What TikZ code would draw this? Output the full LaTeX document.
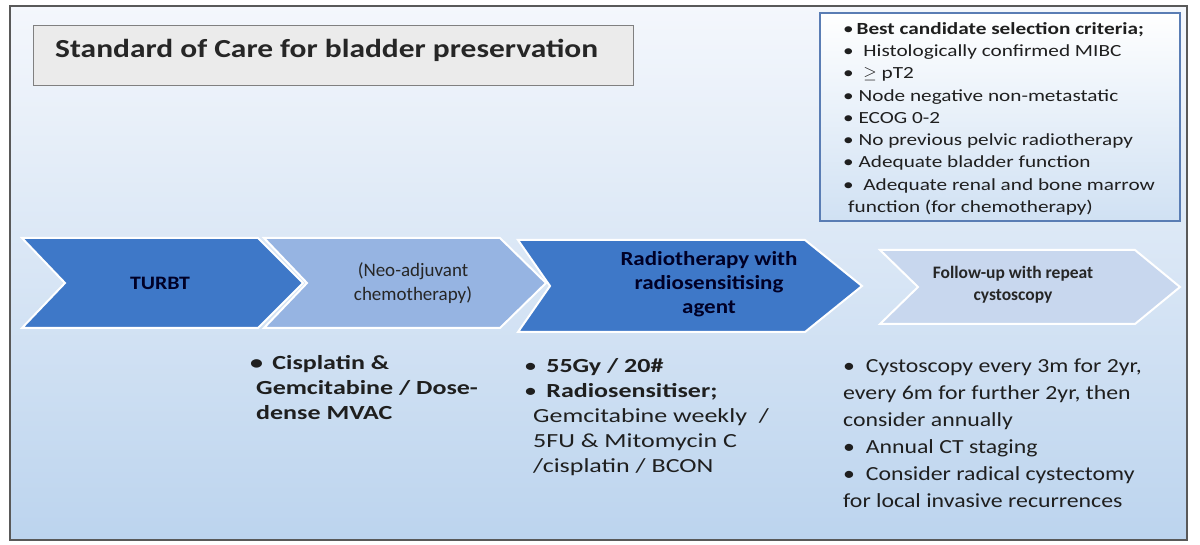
\documentclass[tikz,border=0pt]{standalone}
\usepackage{fontspec}
\setmainfont{Carlito}
\newfontfamily\fwide[FakeStretch=1.15]{Carlito}
\newfontfamily\fwider[FakeStretch=1.3]{Carlito}
\newfontfamily\fcrit[FakeStretch=1.25]{Carlito}
\newfontfamily\fmid[FakeStretch=1.19]{Carlito}
\newfontfamily\ftitle[FakeStretch=1.21]{Carlito}
\begin{document}
\begin{tikzpicture}[x=1pt,y=-1pt,
  txt/.style={inner sep=0pt,align=left,text=black!88},
  chev/.style={draw=white,line width=2pt,line join=miter}]
\definecolor{darkb}{HTML}{3E78C8}
\definecolor{midb}{HTML}{96B4E2}
\definecolor{paleb}{HTML}{C8D7EE}
\definecolor{bgtop}{HTML}{F4F7FC}
\definecolor{bgbot}{HTML}{BCD4EE}
\definecolor{frameb}{HTML}{5A7DB4}
\useasboundingbox (0,0) rectangle (1200,545);
\fill[white] (0,0) rectangle (1200,545);
% outer frame
\shade[top color=bgtop,bottom color=bgbot] (10,6) rectangle (1187,540);
\draw[black!65,line width=1.5pt] (10,6) rectangle (1187,540);
% title
\node[draw=black!50,line width=1pt,fill=black!8,minimum width=600pt,minimum height=60pt,anchor=north west,inner sep=0pt] (titlebox) at (33,25) {};
\node[anchor=west,inner sep=0pt,font=\ftitle\fontsize{26}{30}\selectfont\bfseries,text=black!85] (title) at (55,50) {Standard of Care for bladder preservation};
% criteria box
\shade[top color=white,bottom color=bgbot!70] (820,13) rectangle (1180,221);
\draw[frameb,line width=2pt] (820,13) rectangle (1180,221);
\node[txt,anchor=north west,font=\fcrit\fontsize{17}{22.3}\selectfont] (crit) at (843,22) {%
\textbullet\,\textbf{Best candidate selection criteria;}\\
\textbullet\ \ Histologically confirmed MIBC\\
\textbullet\ \ $\geq$ pT2\\
\textbullet\ Node negative non-metastatic\\
\textbullet\ ECOG 0-2\\
\textbullet\ No previous pelvic radiotherapy\\
\textbullet\ Adequate bladder function\\
\textbullet\ \ Adequate renal and bone marrow\\
\hspace*{5pt}function (for chemotherapy)};
% chevrons
\fill[chev,fill=darkb] (22,238) -- (258,238) -- (303,283) -- (258,328) -- (22,328) -- (65,283) -- cycle;
\fill[chev,fill=midb] (264,238) -- (500,238) -- (546,283) -- (500,328) -- (264,328) -- (307,283) -- cycle;
\fill[chev,fill=darkb] (518,240) -- (805,240) -- (862,286) -- (805,332) -- (518,332) -- (550,286) -- cycle;
\fill[chev,fill=paleb] (880,250) -- (1135,250) -- (1180,287) -- (1135,324) -- (880,324) -- (918,287) -- cycle;
\node[inner sep=0pt,font=\fwide\fontsize{19}{22}\selectfont\bfseries,text=black!85!blue] (c1) at (160,283) {TURBT};
\node[inner sep=0pt,align=center,font=\fontsize{19}{24}\selectfont,text=black!85] (c2) at (413,283) {(Neo-adjuvant\\chemotherapy)};
\node[inner sep=0pt,align=center,font=\fwide\fontsize{20}{24}\selectfont\bfseries,text=black!85!blue] (c3) at (709,284) {Radiotherapy with\\radiosensitising\\agent};
\node[inner sep=0pt,align=center,font=\fontsize{17.5}{22}\selectfont\bfseries,text=black!85] (c4) at (1013,285) {Follow-up with repeat\\cystoscopy};
% lists
\node[txt,anchor=north west,font=\fwider\fontsize{20}{25}\selectfont\bfseries] (l1) at (250,355) {%
\textbullet\ \,Cisplatin \&\\
\hspace*{6pt}Gemcitabine / Dose-\\
\hspace*{6pt}dense MVAC};
\node[txt,anchor=north west,font=\fwider\fontsize{20}{25}\selectfont] (l2) at (524,358) {%
\textbullet\ \,\textbf{55Gy / 20\#}\\
\textbullet\ \,\textbf{Radiosensitiser;}\\
\hspace*{9pt}Gemcitabine weekly \ /\\
\hspace*{9pt}5FU \& Mitomycin C\\
\hspace*{9pt}/cisplatin / BCON};
\node[txt,anchor=north west,font=\fmid\fontsize{20}{27}\selectfont] (l3) at (843,359) {%
\textbullet\ \ Cystoscopy every 3m for 2yr,\\
every 6m for further 2yr, then\\
consider annually\\
\textbullet\ \ Annual CT staging\\
\textbullet\ \ Consider radical cystectomy\\
for local invasive recurrences};
\end{tikzpicture}
\end{document}
